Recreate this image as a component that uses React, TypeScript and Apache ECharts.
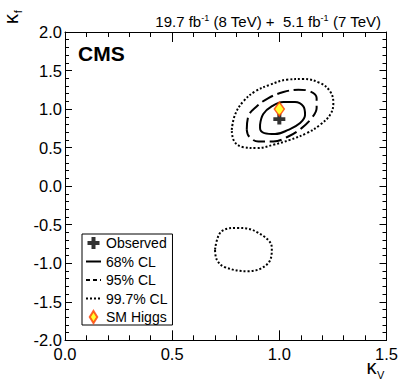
import React, { useEffect, useRef } from 'react';
import * as echarts from 'echarts';

const FONT = '"Liberation Sans", Arial, Helvetica, sans-serif';

// axis ranges
const kappaVRange = [0, 1.5];
const kappaFRange = [-2, 2];
const xInterval = 0.5;
const yInterval = 0.5;

// best-fit and SM points [kappaV, kappaF]
const observedPoint = [[1.0, 0.87]];
const smHiggsPoint = [[1.0, 1.0]];

// 68% CL contour
const contour68 = [
  [0.910, 0.796], [0.925, 0.935], [0.964, 1.034], [1.019, 1.091], [1.073, 1.091],
  [1.112, 1.034], [1.120, 0.926], [1.097, 0.818], [1.042, 0.731], [0.980, 0.675],
  [0.930, 0.688], [0.910, 0.753], [0.910, 0.796],
];

// 95% CL contour
const contour95 = [
  [0.848, 0.731], [0.855, 0.904], [0.894, 1.034], [0.949, 1.143], [1.019, 1.221],
  [1.089, 1.251], [1.143, 1.229], [1.174, 1.143], [1.174, 1.013], [1.151, 0.883],
  [1.104, 0.753], [1.042, 0.644], [0.972, 0.579], [0.902, 0.579], [0.859, 0.644],
  [0.848, 0.731],
];

// 99.7% CL contour (positive kappa_f region)
const contour997a = [
  [0.778, 0.731], [0.793, 0.926], [0.832, 1.099], [0.887, 1.229], [0.957, 1.316],
  [1.035, 1.381], [1.112, 1.390], [1.190, 1.338], [1.237, 1.229], [1.252, 1.078],
  [1.237, 0.926], [1.190, 0.796], [1.128, 0.688], [1.050, 0.601], [0.972, 0.536],
  [0.895, 0.494], [0.832, 0.506], [0.790, 0.579], [0.778, 0.731],
];

// 99.7% CL contour (negative kappa_f island)
const contour997b = [
  [0.700, -0.823], [0.731, -0.584], [0.809, -0.542], [0.902, -0.606], [0.965, -0.801],
  [0.949, -0.996], [0.855, -1.104], [0.747, -1.052], [0.708, -0.953], [0.700, -0.823],
];

const legendNames = ['Observed', '68% CL', '95% CL', '99.7% CL', 'SM Higgs'];

const CROSS = 'path://M3,0H6V3H9V6H6V9H3V6H0V3H3Z';
const DIAMOND = 'path://M5,0L10,8L5,16L0,8Z';

function makeAxis(kind: 'x' | 'y', secondary: boolean) {
  const isX = kind === 'x';
  const range = isX ? kappaVRange : kappaFRange;
  return {
    type: 'value',
    min: range[0],
    max: range[1],
    interval: isX ? xInterval : yInterval,
    position: isX ? (secondary ? 'top' : 'bottom') : secondary ? 'right' : 'left',
    axisLine: { show: true, onZero: false, lineStyle: { color: '#000', width: 1 } },
    axisTick: { show: true, inside: true, length: isX ? 10 : 7, lineStyle: { color: '#000', width: 1 } },
    minorTick: { show: true, splitNumber: 5, length: isX ? 5 : 4, lineStyle: { color: '#000', width: 1 } },
    splitLine: { show: false },
    minorSplitLine: { show: false },
    axisLabel: {
      show: !secondary,
      margin: isX ? 5 : 3,
      fontSize: 16.5,
      color: '#000',
      fontFamily: FONT,
      showMinLabel: true,
      showMaxLabel: true,
      formatter: (v: number) => v.toFixed(1),
    },
  };
}

const hiddenSymbol = { color: 'rgba(0,0,0,0)', borderWidth: 0, opacity: 0 };

export default function App() {
  const ref = useRef<HTMLDivElement>(null);
  useEffect(() => {
    if (!ref.current) return;
    const chart = echarts.init(ref.current, undefined, { renderer: 'svg' });
    const lineBase = { type: 'line', symbol: 'none', smooth: 0.4, silent: true, z: 3, itemStyle: { color: '#000' } };
    chart.setOption({
      animation: false,
      backgroundColor: '#fff',
      grid: { left: 65, right: 20.5, top: 32, bottom: 50.7, containLabel: false, outerBoundsMode: 'none' },
      xAxis: [makeAxis('x', false), makeAxis('x', true)],
      yAxis: [makeAxis('y', false), makeAxis('y', true)],
      legend: {
        data: [
          { name: legendNames[0] },
          { name: legendNames[1], itemStyle: hiddenSymbol },
          { name: legendNames[2], itemStyle: hiddenSymbol, lineStyle: { type: [4, 3] } },
          { name: legendNames[3], itemStyle: hiddenSymbol, lineStyle: { type: [2, 2] } },
          { name: legendNames[4] },
        ],
        orient: 'vertical',
        left: 82,
        top: 234,
        itemWidth: 15,
        itemHeight: 12,
        itemGap: 4.5,
        padding: [2, 5, 1, 3],
        borderColor: '#000',
        borderWidth: 1,
        backgroundColor: '#fff',
        selectedMode: false,
        textStyle: { fontSize: 14, color: '#000', fontFamily: FONT },
      },
      series: [
        { ...lineBase, name: '68% CL', data: contour68, lineStyle: { color: '#000', width: 2, type: 'solid' } },
        { ...lineBase, name: '95% CL', data: contour95, lineStyle: { color: '#000', width: 2, type: [12, 5] } },
        { ...lineBase, name: '99.7% CL', data: contour997a, lineStyle: { color: '#000', width: 2, type: [2, 2] } },
        { ...lineBase, name: '99.7% CL', data: contour997b, lineStyle: { color: '#000', width: 2, type: [2, 2] } },
        {
          type: 'scatter', name: 'Observed', data: observedPoint, symbol: CROSS, symbolSize: [12, 11],
          symbolKeepAspect: false, itemStyle: { color: '#000' }, z: 5, silent: true,
        },
        {
          type: 'scatter', name: 'SM Higgs', data: smHiggsPoint, symbol: DIAMOND, symbolSize: [10, 14],
          symbolKeepAspect: false,
          itemStyle: { color: '#ffff00', borderColor: '#ff3c00', borderWidth: 1.5 }, z: 6, silent: true,
        },
      ],
      graphic: [
        {
          type: 'text', x: 381, y: 21.5,
          style: {
            text: '{n|19.7 fb}{s|-1}{n| (8 TeV) +  5.1 fb}{s|-1}{n| (7 TeV)}',
            align: 'right', verticalAlign: 'middle',
            rich: {
              n: { fontSize: 15, fontFamily: FONT, fill: '#000', lineHeight: 16 },
              s: { fontSize: 9, fontFamily: FONT, fill: '#000', lineHeight: 16, verticalAlign: 'top' },
            },
          },
        },
        {
          type: 'text', x: 78, y: 53.7,
          style: { text: 'CMS', fontSize: 21, fontWeight: 'bold', fontFamily: FONT, fill: '#000', align: 'left', verticalAlign: 'middle' },
        },
        // x-axis title: kappa_V
        {
          type: 'text', x: 376.5, y: 366.5,
          style: { text: 'κ', fontSize: 20, fontFamily: FONT, fill: '#000', align: 'right', verticalAlign: 'middle' },
        },
        {
          type: 'text', x: 377, y: 375,
          style: { text: 'V', fontSize: 11, fontFamily: FONT, fill: '#000', align: 'left', verticalAlign: 'middle' },
        },
        // y-axis title: kappa_f (rotated)
        {
          type: 'text', x: 10.7, y: 19, rotation: Math.PI / 2,
          style: { text: 'κ', fontSize: 20, fontFamily: FONT, fill: '#000', align: 'center', verticalAlign: 'middle' },
        },
        {
          type: 'text', x: 17.8, y: 11.7, rotation: Math.PI / 2,
          style: { text: 'f', fontSize: 11, fontFamily: FONT, fill: '#000', align: 'center', verticalAlign: 'middle' },
        },
      ],
    });
    return () => chart.dispose();
  }, []);
  return (
    <div
      ref={ref}
      style={{ position: 'fixed', left: 0, top: 0, width: 407, height: 391, background: '#fff' }}
    />
  );
}
